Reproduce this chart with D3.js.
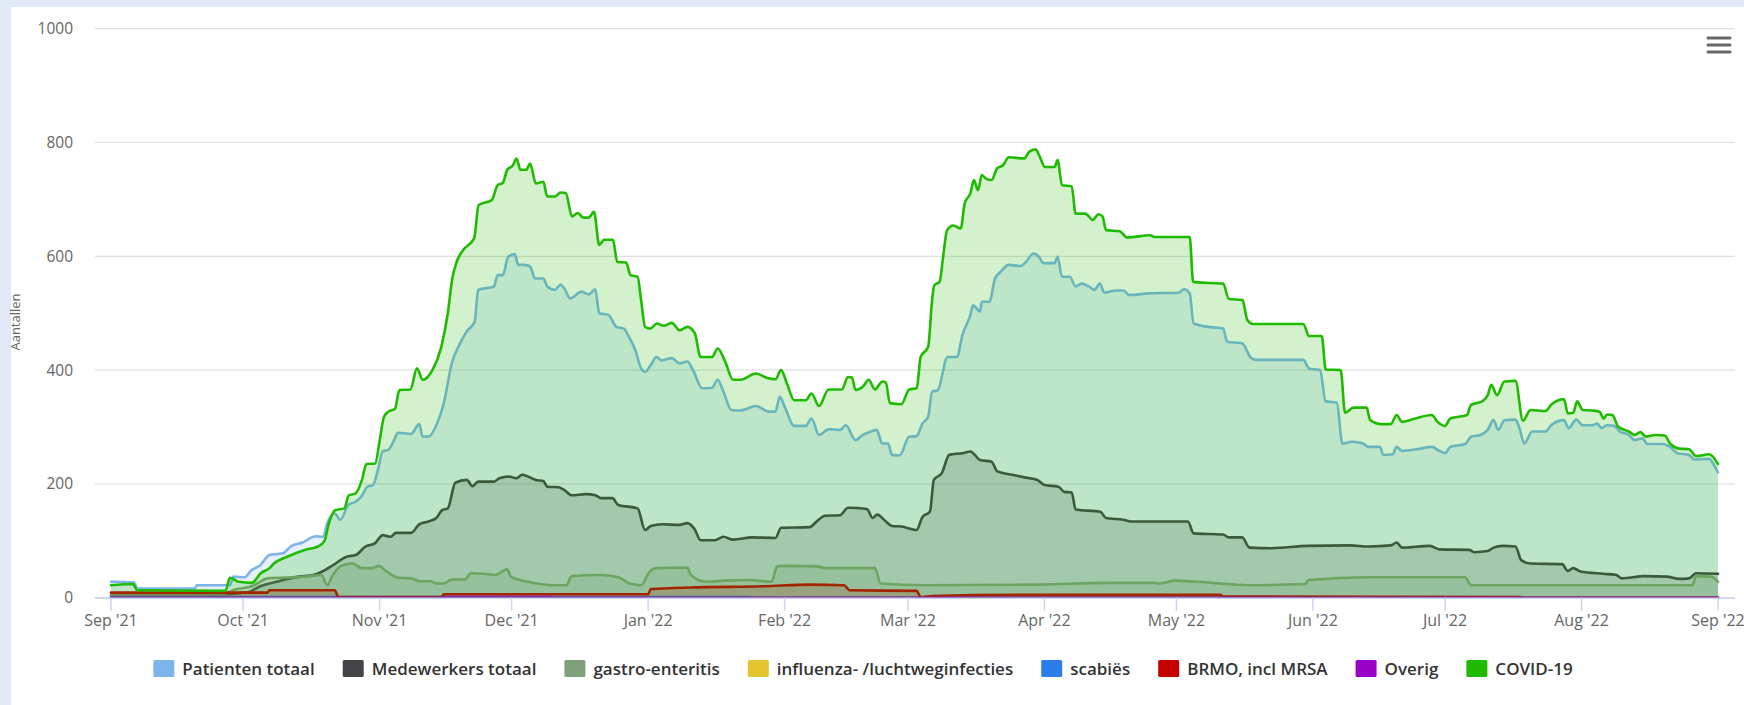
<!DOCTYPE html>
<html>
<head>
<meta charset="utf-8">
<script src="https://cdn.jsdelivr.net/npm/d3@7/dist/d3.min.js"></script>
<style>
  html, body { margin: 0; padding: 0; background: #e2e9f6; }
  svg { display: block; }
</style>
</head>
<body>
<svg id="chart" width="1744" height="705"></svg>
<script>
// x values are days since 1 Sep 2021
var startDate = Date.UTC(2021, 8, 1);
var endDate = Date.UTC(2022, 8, 1);

var seriesNames = ["Patienten totaal", "Medewerkers totaal", "gastro-enteritis",
  "influenza- /luchtweginfecties", "scabiës", "BRMO, incl MRSA", "Overig", "COVID-19"];
var seriesColors = ["#7cb5ec", "#434348", "#7fa079", "#e4c52f", "#2b7de9", "#c40000", "#9b00c9", "#1fbb00"];

var yTicks = [0, 200, 400, 600, 800, 1000];

var patienten = [[0,28],[5.2,27],[6,16],[19,16],[19.5,22],[27,22],[27.8,37],[30.4,36],[31.7,47],[33.9,57],[36,75],[39.1,78],[40.8,90],[43.5,97],[46.5,108],[48.2,107],[49.1,131],[50.8,148],[52.1,137],[53.9,163],[55.6,169],[56.9,178],[58.2,195],[59.5,198],[60.8,230],[61.7,257],[63,260],[64.3,277],[65.2,290],[68.2,288],[70,305],[70.8,283],[72.1,283],[73.9,303],[75.6,342],[77.4,412],[79.1,444],[80.8,468],[82.6,485],[83.4,541],[87,547],[87.8,567],[89,567],[90.2,599],[91.7,604],[92.5,585],[94,585],[95.2,582],[96.3,561],[98.2,561],[99.1,547],[100.8,541],[102.1,550],[103,543],[104.3,526],[106.9,538],[108.5,533],[110,542],[110.9,500],[113,497],[114.8,476],[116.5,473],[117.4,462],[119.1,435],[120.4,403],[121.3,397],[122.6,409],[123.9,423],[125,417],[127.4,421],[129.1,412],[130.9,415],[132.2,400],[134.3,368],[136.5,369],[137.8,383],[139.1,362],[140.9,330],[143,329],[146.5,337],[149.5,327],[150.9,327],[151.9,353],[153,336],[155.2,302],[157.8,302],[159.1,315],[160.8,286],[163,296],[165.6,295],[166.9,303],[169.1,277],[170.8,286],[172.6,292],[173.9,295],[175.2,271],[176.5,271],[177.4,251],[179.1,250],[181.3,283],[183,284],[184.3,306],[185.6,318],[186.5,362],[187.8,365],[190,423],[192.1,423],[193.4,462],[195.2,497],[195.8,514],[197.4,503],[197.8,520],[199.5,520],[200.8,561],[202.1,573],[203.9,585],[206.5,583],[207.8,590],[209.5,605],[210.8,599],[211.7,588],[214.3,588],[215,599],[216,564],[217.8,564],[219.1,547],[220.4,552],[222.1,547],[223.4,541],[224.6,552],[225.6,536],[228.2,540],[230,540],[231.2,532],[236,535],[242.5,536],[243.7,542],[245,535],[245.9,482],[249.2,476],[252.6,473],[253.5,450],[256.9,447],[259,421],[260.2,418],[270.8,418],[272.1,403],[274.6,400],[275.9,345],[278.4,343],[279.7,271],[281.8,274],[284.4,271],[285.6,265],[288.2,265],[289,251],[291.1,252],[292,265],[293.2,258],[296.6,261],[300,265],[301.7,258],[303,254],[304.2,265],[307.6,270],[308.9,283],[311,286],[312.7,295],[314,312],[315.1,295],[316.5,312],[319,313],[319.9,298],[321,271],[322.8,292],[325.8,292],[327.1,303],[330,312],[331.1,298],[332.8,313],[334.3,303],[336.4,303],[337.6,306],[338.5,298],[339.8,303],[341.4,302],[342.7,292],[344.8,286],[346.1,277],[347.8,280],[349,270],[352.4,270],[354.1,265],[355.8,254],[358.4,251],[359.6,243],[363,244],[363.9,236],[365,220]];

var medewerkers = [[0,5],[20,5],[26,6],[29,8],[31.3,10],[33.9,20],[36,25],[39.1,31],[42.6,37],[46,40],[48.7,49],[50.4,57],[53.5,72],[55.6,75],[57.8,90],[60,96],[61.7,110],[63.5,107],[64.7,114],[68.2,114],[70,129],[72.1,134],[73.9,140],[75.2,154],[76.5,157],[78.2,202],[80.8,207],[82.1,196],[83.4,204],[87,204],[88.2,210],[90.4,213],[92.1,210],[93.4,216],[94.7,213],[96.5,207],[98.2,205],[99.1,195],[101.7,194],[103,189],[104.7,180],[107.8,182],[110,180],[111.3,175],[113.9,175],[115.2,163],[119.6,157],[121.3,119],[122.6,126],[125.2,129],[129.1,128],[130.9,131],[132.6,120],[133.9,101],[137,101],[139.1,107],[141.3,102],[145.6,106],[150.9,105],[152.2,123],[158.7,124],[160,132],[162.2,144],[165.6,145],[167.4,158],[171.7,156],[173,140],[174,146],[176,134],[177.4,126],[179.5,125],[183,119],[184.3,142],[186,151],[186.9,207],[188.7,219],[190.4,251],[193.4,254],[195.2,257],[197.4,242],[200,239],[201.3,222],[204.7,216],[207.8,211],[210.4,207],[212.1,198],[215.2,195],[216.5,186],[218.2,185],[219.1,155],[224.7,151],[226,140],[229.9,137],[231.7,134],[244.6,134],[245.9,113],[252.6,111],[253.9,106],[256.9,106],[258.6,88],[263.6,87],[271.7,91],[281.4,92],[285.6,90],[290.7,92],[292,97],[293.2,88],[299.6,91],[301.7,85],[308.5,84],[309.7,80],[312.7,82],[314,88],[316.1,91],[319,90],[320.3,66],[322.4,60],[329.6,59],[330.9,47],[332.1,52],[333.8,46],[338.9,42],[341.9,40],[343.1,34],[348.2,38],[353.3,37],[356.3,33],[358.4,34],[360,43],[365,42]];

var gastro = [[0,4],[25,5],[28,14],[32,20],[35.6,34],[44.3,37],[47.8,40],[49.1,22],[50.4,40],[52.6,57],[54.8,60],[57,52],[59.5,52],[60.8,56],[62.6,46],[65.2,35],[68.2,34],[70,29],[72.6,29],[73.9,25],[75.6,25],[77.4,32],[80.4,32],[81.7,43],[84.7,42],[87.3,40],[90,50],[90.8,37],[94.7,28],[100.8,22],[103.4,22],[104.7,38],[110.9,40],[115.2,36],[117.8,25],[120.4,22],[122.2,44],[123.9,52],[130.9,53],[131.7,40],[135.2,28],[139.5,30],[144.8,31],[150,28],[151.3,55],[152.2,56],[160.4,55],[162.2,52],[173.5,52],[174.8,25],[184.7,22],[210.8,23],[226.5,26],[236.9,26],[238.3,25],[241.6,30],[246.7,28],[258.6,22],[271.2,24],[272.1,31],[285.6,36],[307.6,36],[308.9,22],[359.2,22],[360,38],[363.4,37],[365,28]];

var influenza = [[0,0],[365,0]];

var scabies = [[0,1],[145,1],[146,0],[365,0]];

var brmo = [[0,9],[35.5,9],[36,13],[50.8,13],[51.7,1],[75,1],[75.6,6],[122,6],[122.6,15],[131.7,18],[148.2,20],[158.7,23],[166.5,22],[167.8,13],[183,12],[183.9,1],[186.5,3],[204.7,5],[252,5],[252.6,2],[320,1],[320.5,0],[365,0]];

var overig = [[0,0],[75,0],[76,1],[100,1],[101,0],[365,0]];

var covid = [[0,22],[5,24],[6,13],[26,12],[27,35],[29,28],[32,26],[34,43],[36,52],[37,60],[40,72],[44,84],[47,90],[48.5,100],[49.5,131],[51,154],[53,157],[54,180],[55.5,183],[57,207],[58,235],[60,236],[61,275],[62,318],[63,327],[64.5,332],[65.5,365],[68,366],[69.5,403],[70.8,383],[73,400],[75,440],[76.5,500],[77.5,560],[78.5,590],[80,611],[82.5,632],[83.5,690],[86.5,699],[87.8,725],[89,729],[90,752],[91.3,760],[92.1,772],[93,752],[94.3,752],[95.2,763],[96.5,728],[98.2,731],[99.1,705],[100.8,705],[102.1,712],[103.3,711],[104.7,670],[106,676],[107.3,668],[108.5,668],[109.7,678],[110.9,620],[112,629],[114,629],[115,590],[117,589],[118,567],[119.6,564],[120.4,523],[121.3,476],[122.5,473],[124,482],[125.5,478],[127.4,483],[129.1,470],[130.9,476],[132.6,465],[133.9,423],[136.5,423],[137.8,438],[139.5,415],[141.3,383],[143,383],[146.5,394],[149.1,386],[150.9,384],[152.2,400],[153.5,377],[155.2,347],[157.8,347],[159.1,359],[160.8,337],[163,366],[166,366],[167.4,388],[168.3,387],[169.1,365],[170.8,371],[172.1,383],[173.5,366],[175.2,380],[176,378],[176.9,342],[179.5,340],[181.3,366],[183,368],[183.9,423],[185.6,441],[186.5,523],[187,549],[188.2,555],[189,599],[189.9,646],[191.3,654],[193,649],[193.9,693],[195.2,711],[196,734],[196.9,716],[197.8,743],[198.8,736],[200,734],[201.3,755],[202.6,760],[203.9,774],[207.4,772],[208.6,784],[210,788],[210.8,778],[212.1,757],[214.3,757],[215,769],[216,725],[218.2,723],[219.1,675],[221.3,675],[223,664],[224.3,674],[225.2,670],[226,646],[229.1,644],[230.8,633],[236,637],[237,634],[245,634],[245.8,555],[249.7,553],[252.6,552],[253.9,525],[257,523],[258.1,488],[259.4,481],[270.8,481],[272.1,460],[275,460],[275.9,401],[279.3,400],[280.3,325],[282.2,334],[285.2,334],[286,312],[288.6,305],[290.7,305],[292,321],[293.2,309],[295.8,314],[300,321],[301.3,309],[303,302],[304.2,315],[308,321],[308.9,339],[311.4,345],[312.7,356],[313.5,374],[314.8,356],[316.5,380],[319,381],[320.7,311],[322.4,330],[325.8,328],[327.1,339],[330,349],[330.9,324],[332.1,325],[333,345],[334.3,330],[336.4,329],[338.1,327],[339,315],[339.8,322],[341,321],[342.3,301],[344.8,292],[346.1,286],[347.4,291],[348.6,283],[350.8,286],[352.9,285],[354.1,271],[356.3,262],[358.4,261],[360,249],[363,252],[365,235]];

var seriesData = [patienten, medewerkers, gastro, influenza, scabies, brmo, overig, covid];

var font = "'Lucida Grande','Lucida Sans Unicode','Open Sans',Arial,sans-serif";
var plotLeft = 95, plotRight = 1735, plotTop = 28.7, plotBottom = 597.7;

var svg = d3.select("#chart");

// white panel on the light blue page
svg.append("rect").attr("x", 11).attr("y", 7).attr("width", 1733).attr("height", 698).attr("fill", "#ffffff");

var xScale = d3.scaleUtc()
  .domain([new Date(startDate), new Date(endDate)])
  .range([111, 1718]);

var yScale = d3.scaleLinear()
  .domain([0, 1000])
  .range([plotBottom, plotTop]);

function toDate(d) { return new Date(startDate + d * 864e5); }

// grid
svg.append("g").selectAll("line")
  .data(yTicks)
  .enter().append("line")
  .attr("x1", plotLeft).attr("x2", plotRight)
  .attr("y1", function (d) { return yScale(d); })
  .attr("y2", function (d) { return yScale(d); })
  .attr("stroke", "#e0e0e0").attr("stroke-width", 1.2);

svg.append("g").selectAll("text")
  .data(yTicks)
  .enter().append("text")
  .attr("x", 73).attr("y", function (d) { return yScale(d); })
  .attr("dy", "0.36em")
  .attr("text-anchor", "end")
  .style("font-family", font).style("font-size", "15.5px").style("fill", "#666666")
  .text(function (d) { return d; });

svg.append("text")
  .attr("transform", "translate(20," + 322 + ")rotate(-90)")
  .attr("text-anchor", "middle")
  .style("font-family", font).style("font-size", "13px").style("fill", "#666666")
  .text("Aantallen");

// series: area then line, later series on top
var area = d3.area()
  .x(function (d) { return xScale(toDate(d[0])); })
  .y0(yScale(0))
  .y1(function (d) { return yScale(d[1]); })
  .curve(d3.curveMonotoneX);

var line = d3.line()
  .x(function (d) { return xScale(toDate(d[0])); })
  .y(function (d) { return yScale(d[1]); })
  .curve(d3.curveMonotoneX);

var seriesG = svg.append("g");
seriesData.forEach(function (data, i) {
  var g = seriesG.append("g");
  g.append("path").datum(data)
    .attr("d", area)
    .attr("fill", seriesColors[i]).attr("fill-opacity", 0.2);
  g.append("path").datum(data)
    .attr("d", line)
    .attr("fill", "none")
    .attr("stroke", seriesColors[i]).attr("stroke-width", 2.6)
    .attr("stroke-linejoin", "round").attr("stroke-linecap", "round");
});

// x axis
var months = d3.utcMonth.range(new Date(startDate), new Date(endDate + 1));
svg.append("line")
  .attr("x1", plotLeft).attr("x2", plotRight)
  .attr("y1", plotBottom + 0.5).attr("y2", plotBottom + 0.5)
  .attr("stroke", "#ccd6eb").attr("stroke-width", 1.5);

var xTicks = svg.append("g").selectAll("g")
  .data(months)
  .enter().append("g")
  .attr("transform", function (d) { return "translate(" + xScale(d) + ",0)"; });
xTicks.append("line")
  .attr("y1", plotBottom).attr("y2", plotBottom + 13)
  .attr("stroke", "#ccd6eb").attr("stroke-width", 1.5);
xTicks.append("text")
  .attr("y", 620).attr("dy", "0.36em")
  .attr("text-anchor", "middle")
  .style("font-family", font).style("font-size", "16px").style("fill", "#666666")
  .text(d3.utcFormat("%b '%y"));

// hamburger menu
var menu = svg.append("g").attr("stroke", "#666666").attr("stroke-width", 3).attr("stroke-linecap", "round");
[38, 45, 52].forEach(function (y) {
  menu.append("line").attr("x1", 1708).attr("x2", 1730).attr("y1", y).attr("y2", y);
});

// legend
var legend = svg.append("g");
var lx = 0;
seriesNames.forEach(function (name, i) {
  var item = legend.append("g").attr("transform", "translate(" + lx + ",0)");
  item.append("rect")
    .attr("x", 0).attr("y", 660).attr("width", 21).attr("height", 17)
    .attr("rx", 1.5)
    .attr("fill", seriesColors[i]);
  var t = item.append("text")
    .attr("x", 29).attr("y", 669).attr("dy", "0.36em")
    .style("font-family", font).style("font-size", "17px").style("font-weight", "600")
    .style("fill", "#333333")
    .text(name);
  lx += 29 + t.node().getComputedTextLength() + 28;
});
var legendWidth = lx - 28;
legend.attr("transform", "translate(" + (863 - legendWidth / 2) + ",0)");
</script>
</body>
</html>
